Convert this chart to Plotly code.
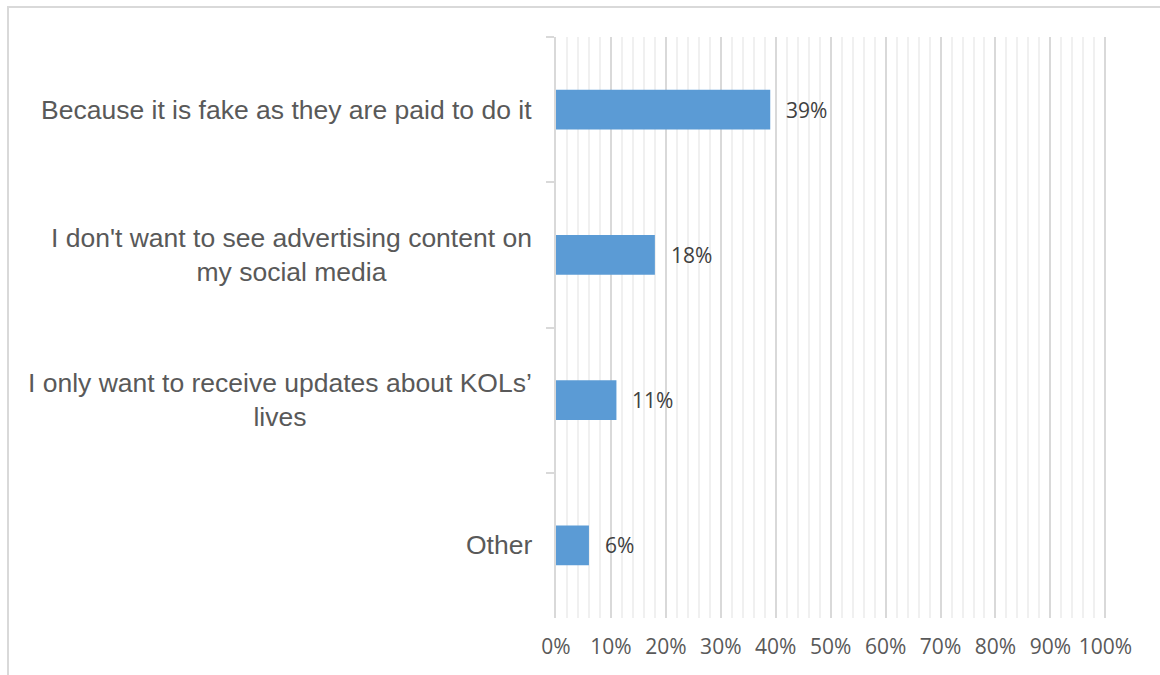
import plotly.graph_objects as go

# survey answers, top to bottom
reasons = [
    "Because it is fake as they are paid to do it",
    "I don't want to see advertising content on<br>my social media",
    "I only want to receive updates about KOLs’<br>lives",
    "Other",
]
shares = [0.39, 0.18, 0.11, 0.06]
share_labels = ["39%", "18%", "11%", "6%"]

bar_color = "#5B9BD5"
grey = "#595959"

# plot area in pixels
L, R, T, B = 556, 53, 37, 57
W, H = 1160, 675

fig = go.Figure()
fig.add_trace(go.Bar(
    y=reasons, x=shares, orientation="h",
    marker=dict(color=bar_color, line=dict(width=0)),
    hoverinfo="skip",
))

# category labels, centred lines like excel
for r in reasons:
    fig.add_annotation(
        x=0, xref="paper", y=r, yref="y", text=r, showarrow=False,
        xanchor="right", xshift=-22, align="center",
        font=dict(family="Liberation Sans, Arial", size=26.5, color=grey),
    )

# data labels
for r, v, t in zip(reasons, shares, share_labels):
    fig.add_annotation(
        x=v, xref="x", y=r, yref="y", text=t, showarrow=False,
        xanchor="left", xshift=14,
        font=dict(family="Open Sans", size=21, color="#404040"),
    )

pw = W - L - R
ph = H - T - B
fig.add_shape(
    type="rect", xref="paper", yref="paper",
    x0=(8 - L) / pw, x1=(W + 20 - L) / pw,
    y0=-(H + 20 - T - ph) / ph, y1=1 + (T - 7) / ph,
    line=dict(color="#d9d9d9", width=2), layer="below",
)

fig.update_layout(
    width=W, height=H,
    margin=dict(l=L, r=R, t=T, b=B),
    paper_bgcolor="white", plot_bgcolor="white",
    showlegend=False, bargap=0.725,
    xaxis=dict(
        # a hair past 100% so the last gridline is drawn
        range=[0, 1.003], dtick=0.1, tickformat=".0%",
        showgrid=True, gridcolor="#d9d9d9", gridwidth=1.5,
        minor=dict(dtick=0.02, showgrid=True, gridcolor="#f0f0f0", gridwidth=2),
        zeroline=False, showline=False, ticks="",
        ticklabelstandoff=14,
        tickfont=dict(family="Open Sans", size=21, color=grey),
    ),
    yaxis=dict(
        autorange="reversed", showticklabels=False,
        showline=True, linecolor="#d9d9d9", linewidth=2,
        ticks="outside", tickson="boundaries", ticklen=8,
        tickcolor="#d9d9d9", tickwidth=2,
        showgrid=False, zeroline=False,
    ),
)

fig.write_html("out.html", config={"displayModeBar": False},
               post_script="document.body.style.margin='0';")
